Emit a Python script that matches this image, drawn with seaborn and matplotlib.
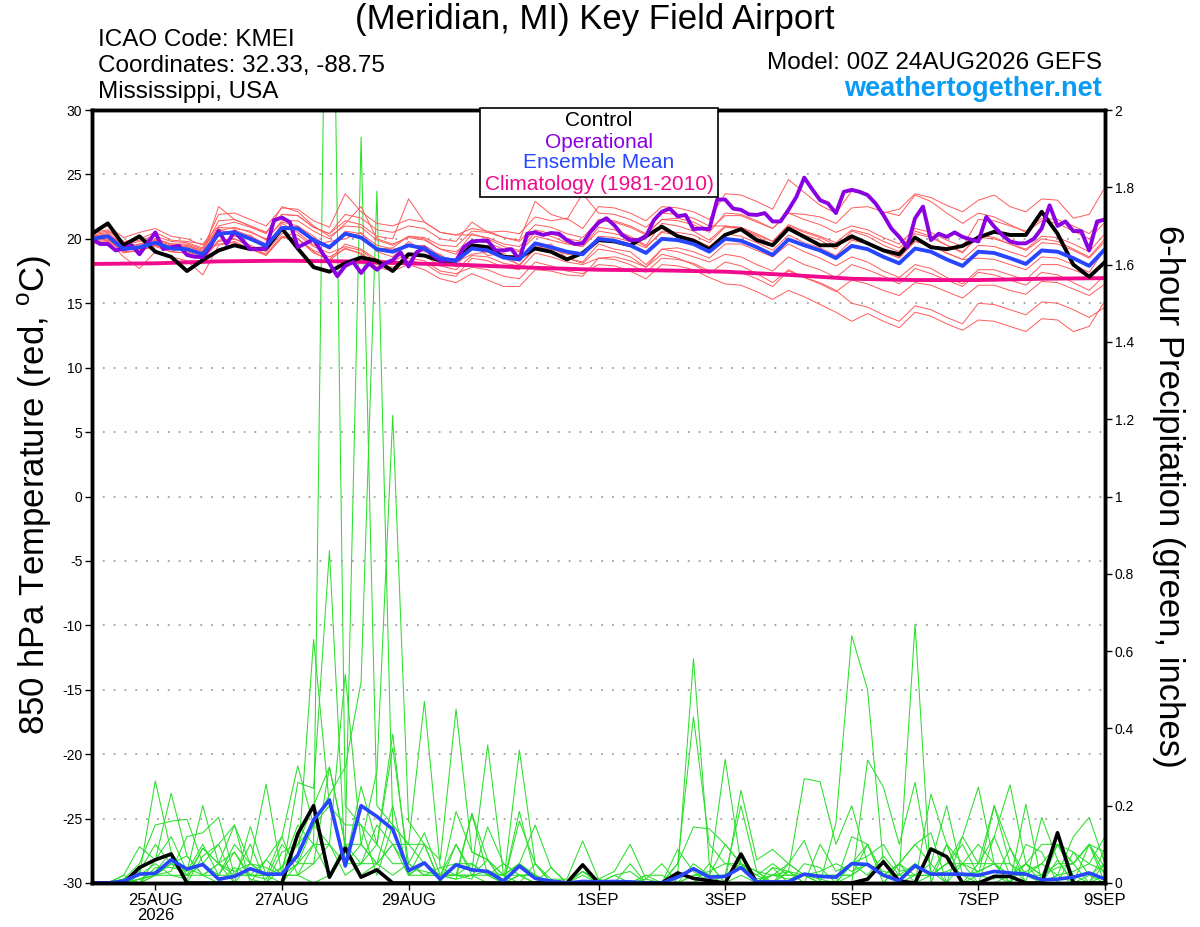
import numpy as np
import pandas as pd
import seaborn as sns
import matplotlib
matplotlib.use("Agg")
import matplotlib.pyplot as plt
from matplotlib.patches import Rectangle

##-----time axes-----##
times6 = pd.date_range("2026-08-24 00:00", periods=65, freq="6h")
times3 = pd.date_range("2026-08-24 00:00", periods=129, freq="3h")
days = pd.date_range("2026-08-24", periods=17, freq="D")

tick_dates = pd.to_datetime(["2026-08-25", "2026-08-27", "2026-08-29", "2026-09-01",
                             "2026-09-03", "2026-09-05", "2026-09-07", "2026-09-09"])
tick_labels = ["25AUG\n2026", "27AUG", "29AUG", "1SEP", "3SEP", "5SEP", "7SEP", "9SEP"]
temp_ticks = list(range(-30, 31, 5))
precip_ticks = [0, 0.2, 0.4, 0.6, 0.8, 1.0, 1.2, 1.4, 1.6, 1.8, 2.0]
precip_ticklabels = ["0", "0.2", "0.4", "0.6", "0.8", "1", "1.2", "1.4", "1.6", "1.8", "2"]

##-----850 hPa temperature (C), 6-hourly-----##
control_t = [20.4, 21.2, 19.5, 20.2, 19.0, 18.6, 17.5, 18.35,
             19.1, 19.5, 19.2, 19.25, 20.8, 19.25, 17.8, 17.45,
             18.1, 18.55, 18.3, 17.5, 18.8, 18.7, 18.3, 18.3,
             19.5, 19.35, 18.6, 18.55, 19.25, 19.0, 18.4, 18.9,
             19.9, 19.8, 19.5, 20.2, 20.95, 20.2, 19.85, 19.2,
             20.3, 20.75, 19.9, 19.5, 20.8, 20.15, 19.5, 19.5,
             20.2, 19.65, 19.1, 18.8, 20.1, 19.35, 19.2, 19.45,
             20.1, 20.55, 20.3, 20.3, 22.1, 20.4, 18.0, 17.05,
             18.2]
mean_t = [20.0, 20.2, 19.2, 19.35, 19.7, 19.25, 19.2, 18.8,
          20.4, 20.5, 20.0, 19.45, 20.85, 20.8, 19.9, 19.35,
          20.4, 20.1, 19.2, 19.0, 19.5, 19.25, 18.5, 18.3,
          19.25, 19.1, 18.55, 18.4, 19.65, 19.35, 19.0, 18.8,
          20.0, 19.85, 19.5, 18.9, 20.0, 19.9, 19.6, 19.0,
          20.0, 19.85, 19.35, 18.75, 19.95, 19.5, 19.1, 18.5,
          19.45, 19.2, 18.6, 18.1, 19.25, 19.0, 18.4, 17.9,
          19.0, 18.9, 18.5, 18.05, 19.1, 19.0, 18.5, 17.9,
          19.2]
# operational run, 3-hourly
oper_t = [20.0, 19.6, 19.6, 19.1, 19.25, 19.5, 18.8, 19.65,
          20.5, 19.2, 19.35, 19.45, 18.75, 18.6, 18.6, 19.45,
          20.6, 19.6, 20.55, 19.9, 19.2, 19.2, 19.25, 21.45,
          21.65, 21.3, 19.35, 19.65, 19.95, 19.0, 18.1, 17.1,
          17.9, 18.2, 17.35, 18.1, 17.6, 18.1, 18.35, 18.95,
          17.85, 18.95, 19.3, 18.75, 18.3, 18.35, 18.3, 19.35,
          19.8, 19.85, 19.85, 19.1, 19.1, 19.2, 18.4, 20.4,
          20.5, 20.3, 20.45, 20.4, 19.9, 19.6, 19.65, 20.55,
          21.25, 21.6, 21.05, 20.3, 19.9, 19.9, 20.2, 21.45,
          22.1, 22.35, 21.75, 21.85, 20.75, 20.8, 20.75, 23.05,
          23.05, 22.35, 22.25, 21.9, 21.85, 22.0, 21.35, 21.35,
          22.25, 23.25, 24.75, 23.85, 23.0, 22.75, 22.0, 23.65,
          23.8, 23.65, 23.4, 22.75, 21.85, 20.8, 20.15, 19.35,
          21.6, 22.5, 19.9, 20.4, 20.15, 20.5, 20.15, 19.95,
          19.8, 21.7, 20.95, 20.3, 19.8, 19.65, 19.65, 20.0,
          20.8, 22.6, 21.0, 21.35, 20.6, 20.6, 19.1, 21.35,
          21.5]
# climatology, daily
clim_t = [18.05, 18.1, 18.25, 18.3, 18.25, 18.1, 17.95, 17.75, 17.6,
          17.55, 17.45, 17.2, 16.9, 16.8, 16.8, 16.9, 16.95]

# ensemble members
t_m01 = [20.3, 20.5, 19.5, 19.8, 20.0, 19.6, 19.5, 19.1,
         21.4, 21.5, 21.0, 20.5, 21.9, 21.8, 20.9, 20.4,
         21.9, 21.6, 20.7, 20.5, 21.0, 20.8, 20.0, 19.8,
         21.3, 20.5, 20.6, 20.4, 21.7, 21.4, 21.6, 20.8,
         22.5, 22.4, 22.0, 21.4, 22.5, 22.4, 22.1, 21.5,
         23.5, 23.4, 22.9, 22.3, 24.6, 23.6, 22.6, 22.0,
         23.7, 23.4, 22.0, 22.3, 23.5, 23.2, 22.6, 22.1,
         23.0, 23.4, 22.5, 22.1, 23.1, 23.0, 21.6, 21.9,
         24.0]
t_m02 = [19.7, 19.9, 18.9, 19.1, 19.4, 19.0, 18.9, 18.5,
         19.9, 20.0, 19.5, 19.0, 20.4, 20.3, 19.4, 18.9,
         19.4, 19.1, 18.2, 18.0, 18.5, 18.3, 17.5, 17.3,
         17.8, 17.6, 17.1, 16.9, 18.2, 17.9, 17.5, 17.3,
         18.0, 17.9, 17.5, 16.9, 18.0, 17.9, 17.6, 17.0,
         16.5, 16.4, 15.9, 15.3, 16.0, 15.5, 14.9, 14.3,
         13.6, 14.2, 13.6, 13.1, 14.3, 14.0, 13.4, 12.9,
         13.7, 13.6, 13.2, 12.8, 13.8, 13.7, 12.8, 13.2,
         15.2]
t_m03 = [20.2, 20.4, 19.4, 19.6, 19.9, 19.5, 19.4, 19.0,
         19.6, 19.7, 19.2, 18.7, 20.1, 20.0, 19.1, 18.6,
         19.2, 18.9, 18.0, 17.8, 18.3, 18.1, 17.3, 17.1,
         18.5, 18.3, 17.8, 17.6, 18.9, 18.6, 18.2, 18.0,
         18.5, 18.4, 18.0, 17.4, 18.5, 18.4, 18.1, 17.5,
         17.5, 17.4, 16.9, 16.3, 17.5, 17.0, 16.6, 16.0,
         15.0, 14.7, 14.1, 13.6, 14.8, 14.5, 13.9, 13.4,
         15.0, 14.9, 14.5, 14.1, 15.1, 15.0, 14.5, 13.9,
         14.7]
t_m04 = [20.5, 20.7, 19.7, 19.9, 20.2, 19.8, 19.7, 19.3,
         21.9, 22.0, 21.5, 21.0, 22.4, 22.3, 21.4, 20.9,
         23.5, 22.1, 21.2, 21.0, 21.5, 21.3, 20.5, 20.3,
         20.8, 20.6, 20.1, 19.9, 22.9, 21.9, 21.5, 23.5,
         22.0, 21.9, 21.5, 20.9, 22.0, 21.9, 21.6, 21.0,
         21.0, 20.9, 20.4, 19.8, 21.0, 20.5, 20.1, 19.5,
         20.0, 19.7, 19.1, 18.6, 19.8, 19.5, 18.9, 18.4,
         18.5, 18.4, 18.0, 17.6, 18.6, 18.5, 18.0, 17.4,
         19.2]
t_m05 = [19.6, 19.8, 18.6, 17.7, 19.0, 18.6, 18.3, 17.2,
         19.5, 19.8, 19.2, 18.8, 20.1, 20.0, 18.9, 18.4,
         19.6, 19.2, 18.4, 18.2, 18.9, 18.7, 17.9, 17.6,
         18.7, 18.6, 18.1, 17.9, 19.4, 19.2, 18.8, 18.7,
         20.2, 20.1, 19.8, 19.3, 20.6, 20.5, 20.3, 19.7,
         20.9, 20.8, 20.3, 19.8, 21.1, 20.6, 20.2, 19.7,
         20.7, 20.4, 19.8, 19.3, 20.4, 20.1, 19.5, 19.0,
         20.1, 20.0, 19.6, 19.2, 20.2, 20.1, 19.6, 19.0,
         20.4]
t_m06 = [20.0, 20.2, 19.2, 19.4, 19.7, 19.3, 19.2, 18.8,
         22.5, 21.5, 21.0, 20.5, 21.9, 21.8, 20.9, 20.4,
         21.4, 21.1, 20.2, 20.0, 23.1, 21.3, 20.5, 20.3,
         20.3, 20.1, 19.6, 19.4, 20.7, 20.4, 20.0, 19.8,
         21.5, 21.4, 21.0, 20.4, 21.5, 21.4, 21.1, 20.5,
         22.0, 21.9, 21.4, 20.8, 22.0, 21.5, 21.1, 20.5,
         21.0, 20.7, 20.1, 19.6, 20.8, 20.5, 19.9, 19.4,
         21.5, 21.4, 21.0, 20.6, 21.6, 21.5, 21.0, 20.4,
         21.7]
t_m07 = [20.1, 19.9, 19.0, 19.6, 19.5, 19.0, 19.5, 19.0,
         20.8, 20.2, 20.3, 19.2, 21.2, 20.5, 19.5, 19.8,
         20.0, 20.5, 19.0, 18.6, 19.8, 19.0, 18.8, 17.8,
         19.6, 18.7, 18.9, 17.9, 19.3, 19.6, 18.5, 18.2,
         19.6, 19.2, 19.0, 18.0, 19.2, 19.0, 18.6, 18.2,
         18.8, 18.6, 18.0, 17.5, 18.6, 18.0, 17.6, 17.0,
         18.0, 17.6, 17.1, 16.5, 17.7, 17.3, 16.8, 16.3,
         17.4, 17.2, 16.8, 16.4, 17.4, 17.2, 16.6, 16.0,
         17.2]
t_m08 = [20.4, 20.6, 19.8, 20.0, 20.5, 19.9, 19.8, 19.6,
         21.0, 21.3, 20.9, 20.4, 22.5, 22.1, 21.0, 20.2,
         21.0, 20.9, 19.9, 19.5, 20.2, 20.0, 19.2, 18.8,
         20.4, 20.0, 19.4, 19.1, 20.5, 20.2, 19.7, 19.4,
         20.9, 20.7, 20.2, 19.5, 21.2, 21.0, 20.6, 19.9,
         21.0, 20.8, 20.2, 19.5, 20.9, 20.3, 19.9, 19.2,
         20.6, 20.2, 19.5, 19.0, 20.6, 20.2, 19.5, 18.9,
         20.3, 20.1, 19.6, 19.1, 20.0, 19.8, 19.2, 18.6,
         20.0]
t_m09 = [19.8, 20.0, 19.0, 19.1, 19.5, 19.0, 18.9, 18.4,
         19.8, 20.0, 19.4, 18.8, 20.2, 20.0, 19.0, 18.3,
         19.3, 18.8, 17.8, 17.5, 18.0, 17.6, 16.9, 16.6,
         17.3, 16.8, 16.3, 16.3, 17.6, 17.5, 17.2, 17.1,
         18.5, 18.6, 18.3, 17.8, 19.2, 19.3, 19.0, 18.5,
         19.6, 19.6, 19.1, 18.6, 19.6, 19.0, 18.5, 17.9,
         18.6, 18.2, 17.5, 17.0, 18.0, 17.7, 17.0, 16.5,
         17.6, 17.6, 17.2, 16.8, 18.0, 18.0, 17.6, 17.1,
         18.3]
t_m10 = [20.6, 21.0, 20.1, 20.5, 20.8, 20.2, 20.0, 19.5,
         20.6, 20.9, 20.5, 20.0, 21.3, 21.0, 19.9, 19.2,
         20.3, 20.0, 19.2, 19.3, 20.2, 20.1, 19.5, 19.4,
         20.6, 20.5, 20.1, 19.8, 21.1, 20.9, 20.4, 20.1,
         21.4, 21.3, 20.9, 20.3, 21.5, 21.6, 21.3, 20.7,
         21.8, 21.8, 21.3, 20.8, 22.0, 21.9, 21.7, 21.2,
         22.4, 22.5, 22.1, 21.8, 23.4, 22.9, 22.0, 21.2,
         22.0, 21.7, 21.1, 20.5, 21.4, 21.2, 20.6, 20.0,
         21.3]
t_m11 = [19.9, 20.1, 19.3, 19.2, 19.8, 19.4, 19.0, 18.6,
         20.2, 20.7, 20.2, 19.6, 20.6, 21.0, 20.2, 19.2,
         20.6, 20.4, 19.5, 19.2, 19.4, 19.5, 18.7, 18.2,
         18.8, 19.0, 18.5, 18.0, 19.2, 19.0, 18.5, 18.1,
         19.2, 19.0, 18.6, 17.8, 18.8, 18.5, 18.0, 17.3,
         18.2, 17.9, 17.3, 16.6, 17.6, 17.0, 16.5, 15.9,
         16.8, 16.5, 16.0, 15.6, 16.6, 16.4, 15.9, 15.4,
         16.4, 16.4, 16.0, 15.7, 16.7, 16.6, 16.1, 15.6,
         16.5]
t_m12 = [20.2, 20.3, 19.6, 19.1, 20.0, 19.6, 19.6, 19.2,
         20.9, 20.8, 20.6, 19.9, 21.4, 21.4, 20.6, 20.0,
         21.2, 22.5, 20.0, 19.6, 20.1, 19.9, 19.2, 19.0,
         19.9, 19.7, 19.2, 19.0, 20.2, 19.9, 19.6, 19.4,
         20.6, 20.4, 20.1, 19.4, 20.5, 20.3, 20.0, 19.4,
         20.4, 20.2, 19.7, 19.1, 20.3, 19.7, 19.3, 18.7,
         19.9, 19.6, 19.0, 18.5, 19.8, 19.5, 18.9, 18.4,
         19.5, 19.4, 19.0, 18.6, 19.7, 19.6, 19.1, 18.5,
         19.8]

##-----6-hour precipitation (inches)-----##
control_p = [0, 0, 0, 0.04, 0.06, 0.075, 0, 0,
             0, 0, 0, 0, 0, 0.127, 0.2, 0.015,
             0.09, 0.015, 0.034, 0, 0, 0, 0, 0,
             0, 0, 0, 0, 0, 0.004, 0, 0.047,
             0, 0, 0, 0, 0, 0.026, 0.012, 0.006,
             0, 0.075, 0, 0, 0, 0, 0, 0,
             0, 0.01, 0.055, 0.005, 0, 0.088, 0.068, 0,
             0, 0.017, 0.017, 0, 0, 0.13, 0, 0,
             0]
mean_p = [0, 0, 0.005, 0.023, 0.025, 0.06, 0.036, 0.048,
          0.01, 0.017, 0.037, 0.023, 0.023, 0.072, 0.163, 0.215,
          0.044, 0.2, 0.172, 0.139, 0.032, 0.052, 0.01, 0.047,
          0.034, 0.03, 0.005, 0.044, 0.012, 0.005, 0, 0.004,
          0.003, 0.004, 0.003, 0, 0, 0.015, 0.037, 0.015,
          0.017, 0.04, 0.003, 0.003, 0.003, 0.023, 0.017, 0.015,
          0.05, 0.048, 0.02, 0.006, 0.045, 0.023, 0.023, 0.023,
          0.02, 0.03, 0.026, 0.023, 0.008, 0.01, 0.015, 0.026,
          0.01]

p_m01 = [0, 0, 0.01, 0.03, 0.1, 0.05, 0.02, 0.09,
         0.05, 0, 0.05, 0.02, 0.04, 0.15, 0.1, 3.2,
         0.2, 0.15, 0.1, 0.35, 0.05, 0.13, 0.02, 0.1,
         0.02, 0, 0, 0.16, 0.05, 0, 0, 0,
         0, 0.02, 0, 0, 0, 0.05, 0.145, 0.14,
         0.1, 0.05, 0, 0.04, 0, 0.05, 0.04, 0,
         0.12, 0.1, 0, 0.05, 0.1, 0.13, 0, 0.05,
         0.1, 0.05, 0, 0.1, 0.08, 0, 0.08, 0.05,
         0.12]
p_m02 = [0, 0, 0, 0.02, 0.264, 0.08, 0.02, 0.05,
         0.02, 0.08, 0.01, 0, 0.08, 0.1, 0.2, 0.3,
         0.1, 1.93, 0.2, 0.15, 0.02, 0.1, 0, 0.185,
         0.08, 0.06, 0.02, 0.05, 0.15, 0.04, 0, 0.03,
         0, 0, 0.05, 0, 0, 0, 0, 0.02,
         0.32, 0.05, 0.03, 0, 0.03, 0.27, 0.262, 0.1,
         0.2, 0.05, 0.02, 0, 0, 0.02, 0.1, 0,
         0.02, 0.2, 0.09, 0, 0, 0.06, 0, 0.1,
         0.04]
p_m03 = [0, 0, 0.02, 0.094, 0.06, 0.232, 0.07, 0.02,
         0, 0.04, 0.02, 0.06, 0.12, 0.303, 0.15, 0.228,
         0.3, 0.52, 1.79, 0.15, 0.1, 0.47, 0.04, 0.02,
         0.01, 0.145, 0.05, 0.02, 0, 0.04, 0, 0.03,
         0.01, 0, 0, 0, 0, 0.087, 0.03, 0,
         0, 0.24, 0.06, 0.087, 0.05, 0.02, 0, 0.155,
         0.64, 0.5, 0.05, 0, 0.02, 0.05, 0.2, 0.02,
         0, 0.12, 0.254, 0.05, 0, 0.02, 0.12, 0.17,
         0.05]
p_m04 = [0, 0, 0.01, 0.05, 0.15, 0.16, 0.165, 0.05,
         0.1, 0, 0.146, 0.02, 0, 0.05, 0.63, 0.2,
         0.05, 0.1, 0.29, 1.21, 0.16, 0.1, 0.06, 0.45,
         0.08, 0.06, 0, 0.344, 0.05, 0.01, 0.01, 0.109,
         0.01, 0.03, 0.1, 0.01, 0, 0, 0, 0,
         0.02, 0.2, 0.03, 0, 0.05, 0.11, 0, 0,
         0, 0.318, 0.248, 0.1, 0.26, 0.03, 0, 0.12,
         0.248, 0.05, 0, 0.204, 0, 0.1, 0.02, 0,
         0.09]
p_m05 = [0, 0, 0, 0, 0.06, 0.12, 0.03, 0.2,
         0.05, 0.15, 0.05, 0.256, 0.02, 0.26, 0.245, 0.86,
         0.05, 0.25, 0.1, 0.385, 0.02, 0.05, 0.02, 0.02,
         0.18, 0.06, 0, 0.185, 0.02, 0, 0, 0,
         0, 0, 0, 0, 0, 0.02, 0.58, 0.05,
         0, 0, 0, 0.02, 0.05, 0.02, 0, 0,
         0.05, 0.02, 0.07, 0.02, 0.67, 0, 0.1, 0,
         0.05, 0.2, 0.05, 0, 0.17, 0.06, 0, 0,
         0.02]
p_m06 = [0, 0, 0, 0.01, 0.02, 0.03, 0.12, 0.13,
         0.17, 0.02, 0.1, 0, 0.04, 0.1, 0.15, 0.2,
         0.15, 0.15, 0.02, 0.15, 0.1, 0.1, 0, 0.1,
         0.03, 0.357, 0.02, 0, 0.05, 0, 0, 0.03,
         0, 0, 0, 0.01, 0.05, 0, 0, 0.05,
         0, 0.02, 0, 0.04, 0.03, 0, 0, 0,
         0.02, 0.1, 0.02, 0.05, 0, 0.23, 0.1, 0.05,
         0, 0.02, 0, 0.05, 0.1, 0.1, 0.05, 0.1,
         0]
p_m07 = [0, 0, 0, 0.01, 0.03, 0.08, 0, 0.07,
         0.1, 0.15, 0, 0.06, 0.02, 0.02, 0, 0.02,
         0.1, 0.05, 0.05, 0.02, 0.05, 0.02, 0.02, 0.01,
         0.18, 0.02, 0, 0.02, 0.02, 0, 0, 0,
         0, 0.02, 0.03, 0, 0, 0, 0.02, 0.03,
         0.05, 0.05, 0.03, 0.02, 0.01, 0.02, 0.03, 0.05,
         0.03, 0.05, 0.03, 0.02, 0.05, 0.02, 0.03, 0.05,
         0.03, 0.05, 0.02, 0.03, 0.05, 0.02, 0.03, 0.05,
         0.03]
p_m08 = [0, 0, 0.02, 0, 0.02, 0.05, 0.04, 0.02,
         0.05, 0.08, 0.02, 0.01, 0.1, 0.05, 0.1, 0.1,
         0.02, 0.05, 0.1, 0.05, 0.05, 0.02, 0.04, 0.05,
         0.05, 0.02, 0.05, 0.02, 0.02, 0, 0, 0,
         0, 0, 0, 0.02, 0, 0, 0, 0,
         0.02, 0.05, 0.02, 0, 0, 0, 0.1, 0.03,
         0.05, 0.07, 0.1, 0.03, 0.04, 0.02, 0.05, 0.12,
         0.05, 0.12, 0.02, 0.05, 0.02, 0.04, 0.05, 0.1,
         0.08]
p_m09 = [0, 0, 0, 0.02, 0.05, 0.02, 0.01, 0.09,
         0.05, 0.03, 0.05, 0.04, 0.02, 0.05, 0.15, 0.1,
         0.54, 0.1, 0.05, 0.1, 0.04, 0.03, 0.02, 0.01,
         0.02, 0.03, 0.02, 0.05, 0.02, 0, 0, 0,
         0, 0, 0, 0, 0, 0.05, 0.43, 0.1,
         0.05, 0.04, 0.02, 0.05, 0.02, 0.02, 0.01, 0,
         0.05, 0.1, 0.02, 0.01, 0.05, 0.02, 0.05, 0.1,
         0.02, 0.01, 0.09, 0.02, 0.05, 0.1, 0.05, 0,
         0.05]
p_m10 = [0, 0, 0.01, 0, 0.04, 0.04, 0.03, 0.1,
         0.02, 0.1, 0.05, 0.02, 0.02, 0.05, 0.05, 0.3,
         0.1, 0.1, 0.05, 0.1, 0.1, 0.05, 0.02, 0.02,
         0.02, 0.06, 0.02, 0.05, 0.02, 0, 0, 0,
         0, 0, 0, 0, 0, 0, 0.05, 0.02,
         0.1, 0.05, 0.01, 0.02, 0.02, 0.02, 0.02, 0.02,
         0.02, 0.05, 0.02, 0.05, 0.02, 0.02, 0.02, 0.02,
         0.03, 0.05, 0.05, 0.02, 0.02, 0.1, 0.08, 0.02,
         0.05]
p_m11 = [0, 0, 0, 0, 0.02, 0.02, 0.02, 0.02,
         0.02, 0.02, 0.02, 0.02, 0.02, 0.02, 0.1, 0.02,
         0.1, 0.02, 0.05, 0.2, 0.02, 0.05, 0.02, 0.02,
         0.02, 0.02, 0, 0.02, 0.02, 0, 0, 0.02,
         0, 0, 0, 0.02, 0.02, 0, 0, 0,
         0, 0, 0, 0, 0.03, 0, 0, 0,
         0, 0, 0, 0.05, 0.1, 0.05, 0, 0,
         0, 0, 0.02, 0.02, 0, 0.02, 0, 0.02,
         0]
p_m12 = [0, 0, 0, 0.01, 0.02, 0.05, 0.07, 0.02,
         0.05, 0.02, 0.02, 0.02, 0.12, 0.02, 0.05, 0.1,
         0.05, 0.05, 0.15, 0.1, 0.02, 0.02, 0.02, 0.02,
         0.05, 0.02, 0.02, 0.02, 0, 0, 0, 0,
         0, 0, 0, 0, 0, 0, 0.02, 0.02,
         0.02, 0.05, 0, 0.02, 0.03, 0.02, 0.02, 0.02,
         0.02, 0.05, 0.02, 0.02, 0.02, 0.02, 0.05, 0.05,
         0.05, 0.05, 0.02, 0.05, 0.02, 0.05, 0.05, 0.1,
         0.02]

temp_members = [t_m01, t_m02, t_m03, t_m04, t_m05, t_m06,
                t_m07, t_m08, t_m09, t_m10, t_m11, t_m12]
precip_members = [p_m01, p_m02, p_m03, p_m04, p_m05, p_m06,
                  p_m07, p_m08, p_m09, p_m10, p_m11, p_m12]

##-----long tables for seaborn-----##
df_t = pd.concat([pd.DataFrame({"time": times6, "temp": m, "member": k})
                  for k, m in enumerate(temp_members)], ignore_index=True)
df_p = pd.concat([pd.DataFrame({"time": times6, "precip": m, "member": k})
                  for k, m in enumerate(precip_members)], ignore_index=True)

##-----style-----##
sns.set_style("ticks")
plt.rcParams["font.family"] = ["Liberation Sans", "DejaVu Sans"]
plt.rcParams["mathtext.fontset"] = "custom"
plt.rcParams["mathtext.rm"] = "Liberation Sans"
plt.rcParams["axes.unicode_minus"] = False
plt.rcParams["text.color"] = "black"
plt.rcParams["xtick.color"] = "black"
plt.rcParams["ytick.color"] = "black"

RED = "#ff5a5a"
GREEN = "#2ade2a"
PURPLE = "#8a00e0"
BLUE = "#2846ff"
PINK = "#f00a8c"

W, H = 1200, 927
fig = plt.figure(figsize=(W / 100, H / 100), dpi=100)
ax = fig.add_axes([92 / W, 44 / H, 1013 / W, 773 / H])
ax2 = ax.twinx()
ax.set_zorder(ax2.get_zorder() + 1)
ax.patch.set_visible(False)

##-----precipitation (right axis)-----##
sns.lineplot(data=df_p, x="time", y="precip", units="member", estimator=None,
             color=GREEN, lw=0.75, ax=ax2, legend=False)
sns.lineplot(x=times6, y=control_p, color="black", lw=2.6, ax=ax2)
sns.lineplot(x=times6, y=mean_p, color=BLUE, lw=2.6, ax=ax2)

##-----temperature (left axis)-----##
sns.lineplot(data=df_t, x="time", y="temp", units="member", estimator=None,
             color=RED, lw=0.7, ax=ax, legend=False)
sns.lineplot(x=days, y=clim_t, color=PINK, lw=2.8, ax=ax)
sns.lineplot(x=times6, y=control_t, color="black", lw=2.8, ax=ax)
sns.lineplot(x=times3, y=oper_t, color=PURPLE, lw=2.8, ax=ax)
sns.lineplot(x=times6, y=mean_t, color=BLUE, lw=2.8, ax=ax)

##-----axes-----##
ax.set_xlim(times6[0], times6[-1])
ax.set_ylim(-30, 30)
ax2.set_ylim(0, 2)
ax.set_yticks(temp_ticks)
ax.set_yticklabels([str(v) for v in temp_ticks])
ax2.set_yticks(precip_ticks)
ax2.set_yticklabels(precip_ticklabels)
ax.set_xticks(tick_dates)
ax.set_xticklabels(tick_labels, linespacing=1.0)
ax.set_xlabel("")
ax.set_ylabel("")
ax2.set_ylabel("")
ax.yaxis.grid(True, linestyle=(0, (1, 5)), color="#a0a0a0", lw=1.3)
ax.tick_params(axis="y", labelsize=10, length=5, width=1, direction="out", pad=2)
ax.tick_params(axis="x", labelsize=12, length=5, width=1, direction="out", pad=2)
ax2.tick_params(axis="y", labelsize=10, length=5, width=1, direction="out", pad=2)
for a in (ax, ax2):
    for s in a.spines.values():
        s.set_visible(True)
        s.set_linewidth(2.5)
        s.set_color("black")

##-----text-----##
fig.text(595 / W, 1 - 19 / H, "(Meridian, MI) Key Field Airport",
         ha="center", va="center", fontsize=25)
fig.text(98 / W, 1 - 40 / H, "ICAO Code: KMEI", ha="left", va="center", fontsize=17.5)
fig.text(98 / W, 1 - 66 / H, "Coordinates: 32.33, -88.75", ha="left", va="center", fontsize=17.5)
fig.text(98 / W, 1 - 92 / H, "Mississippi, USA", ha="left", va="center", fontsize=17.5)
fig.text(1102 / W, 1 - 63 / H, "Model: 00Z 24AUG2026 GEFS", ha="right", va="center", fontsize=17.5)
fig.text(1102 / W, 1 - 89 / H, "weathertogether.net", ha="right", va="center",
         fontsize=19.5, fontweight="bold", color="#0a9cf5")
fig.text(35 / W, 1 - 495 / H, "850 hPa Temperature (red, $^{\\mathrm{o}}$C)",
         rotation=90, ha="center", va="center", fontsize=25)
fig.text(1168 / W, 1 - 496 / H, "6-hour Precipitation (green, inches)",
         rotation=270, ha="center", va="center", fontsize=25)

##-----legend box-----##
fig.add_artist(Rectangle((480 / W, 1 - 197 / H), 238 / W, 89 / H, transform=fig.transFigure,
                         facecolor="white", edgecolor="black", lw=1.2, zorder=5))
for label, col, yy in [("Control", "black", 120), ("Operational", PURPLE, 142),
                       ("Ensemble Mean", BLUE, 163), ("Climatology (1981-2010)", PINK, 185)]:
    fig.text(599 / W, 1 - yy / H, label, ha="center", va="center", fontsize=15,
             color=col, zorder=6)

plt.savefig("out.png", dpi=100)
